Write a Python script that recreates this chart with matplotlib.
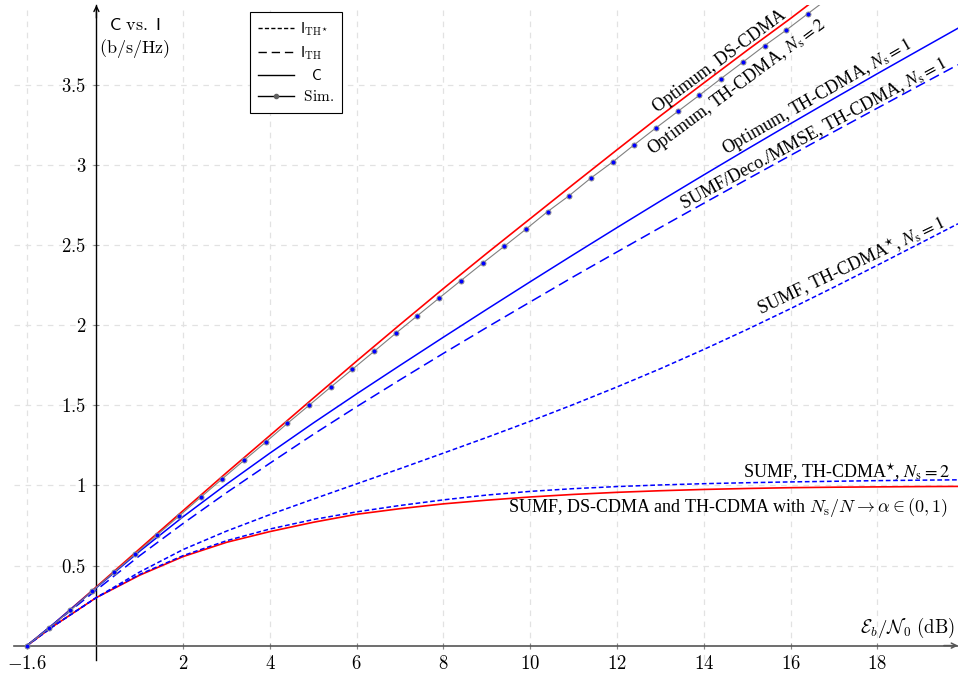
import numpy as np
import matplotlib
matplotlib.use('Agg')
import matplotlib.pyplot as plt
from matplotlib.lines import Line2D

plt.rcParams['font.family'] = ['Liberation Serif', 'DejaVu Serif']
plt.rcParams['mathtext.fontset'] = 'stix'
plt.rcParams['lines.scale_dashes'] = False

# ---------------- data ----------------
x_opt_ds = [-1.6, -1, 0, 1, 2, 3, 4, 5, 6, 7, 8, 9, 10, 11, 12, 13, 14, 15, 16, 16.6]
y_opt_ds = [0, 0.131, 0.367, 0.605, 0.843, 1.08, 1.312, 1.545, 1.777, 2.005, 2.23,
            2.45, 2.666, 2.882, 3.096, 3.308, 3.513, 3.717, 3.916, 4.04]

x_sim = [-1.6, -1.1, -0.6, -0.1, 0.4, 0.9, 1.4, 1.9, 2.4, 2.9, 3.4, 3.9, 4.4, 4.9,
         5.4, 5.9, 6.4, 6.9, 7.4, 7.9, 8.4, 8.9, 9.4, 9.9, 10.4, 10.9, 11.4, 11.9,
         12.4, 12.9, 13.4, 13.9, 14.4, 14.9, 15.4, 15.9, 16.4, 16.9]
y_sim = [0, 0.108, 0.22, 0.34, 0.457, 0.573, 0.691, 0.808, 0.925, 1.041, 1.156, 1.27,
         1.387, 1.50, 1.614, 1.725, 1.837, 1.95, 2.06, 2.17, 2.279, 2.387, 2.493, 2.60,
         2.71, 2.81, 2.92, 3.02, 3.128, 3.233, 3.335, 3.437, 3.541, 3.643, 3.746, 3.843,
         3.946, 4.048]

x_th1 = [-1.6, -1, 0, 1, 2, 3, 4, 5, 6, 7, 8, 9, 10, 11, 12, 13, 14, 15, 16, 17, 18, 19, 19.86]
y_opt_th1 = [0, 0.133, 0.362, 0.59, 0.805, 1.008, 1.202, 1.39, 1.572, 1.75, 1.926, 2.10,
             2.272, 2.442, 2.61, 2.776, 2.939, 3.10, 3.259, 3.416, 3.571, 3.724, 3.855]
y_sumf_th1 = [0, 0.131, 0.347, 0.562, 0.763, 0.955, 1.139, 1.319, 1.492, 1.66, 1.825, 1.987,
              2.146, 2.304, 2.458, 2.611, 2.762, 2.912, 3.061, 3.209, 3.356, 3.502, 3.627]
y_sumf_star1 = [0, 0.12, 0.30, 0.46, 0.60, 0.715, 0.818, 0.915, 1.01, 1.105, 1.202, 1.30,
                1.401, 1.506, 1.615, 1.729, 1.849, 1.974, 2.104, 2.238, 2.375, 2.514, 2.634]
y_sumf_alpha = [0, 0.12, 0.30, 0.44, 0.556, 0.645, 0.712, 0.77, 0.82, 0.855, 0.885, 0.908,
                0.928, 0.944, 0.957, 0.967, 0.975, 0.981, 0.986, 0.989, 0.991, 0.993, 0.994]
y_sumf_star2 = [0, 0.12, 0.30, 0.445, 0.562, 0.655, 0.728, 0.787, 0.835, 0.875, 0.91, 0.94,
                0.963, 0.98, 0.993, 1.003, 1.011, 1.017, 1.022, 1.026, 1.03, 1.033, 1.035]

xticks = [-1.6, 2, 4, 6, 8, 10, 12, 14, 16, 18]
xtick_labels = ['$-1.6$', '$2$', '$4$', '$6$', '$8$', '$10$', '$12$', '$14$', '$16$', '$18$']
yticks = [0.5, 1, 1.5, 2, 2.5, 3, 3.5]
ytick_labels = ['$0.5$', '$1$', '$1.5$', '$2$', '$2.5$', '$3$', '$3.5$']

# ---------------- figure ----------------
W, H = 958, 679
fig = plt.figure(figsize=(W / 100, H / 100), dpi=100)
ax = fig.add_axes([14 / W, 19 / H, (W - 14) / W, (660 - 5) / H])
ax.set_xlim(-1.9, 19.86)
ax.set_ylim(-0.09, 4.0)

RED = '#ff0000'
BLUE = '#0000ff'
long_d = (0, (7.5, 3.8))
short_d = (0, (3.4, 1.9))

ax.plot(x_opt_ds, y_opt_ds, color=RED, lw=1.2, zorder=3)
ax.plot(x_th1, y_sumf_alpha, color=RED, lw=1.2, zorder=3)
ax.plot(x_th1, y_opt_th1, color=BLUE, lw=1.1, zorder=4)
ax.plot(x_th1, y_sumf_th1, color=BLUE, lw=1.1, ls=long_d, zorder=4)
ax.plot(x_th1, y_sumf_star1, color=BLUE, lw=1.1, ls=short_d, zorder=4)
ax.plot(x_th1, y_sumf_star2, color=BLUE, lw=1.1, ls=short_d, zorder=4)
ax.plot(x_sim, y_sim, color='#808080', lw=0.8, marker='o', ms=3.6,
        mfc=BLUE, mec='#909090', mew=0.7, zorder=5)

# axes in the middle style
for s in ['top', 'right']:
    ax.spines[s].set_visible(False)
ax.spines['left'].set_position(('data', 0))
ax.spines['bottom'].set_position(('data', 0))
ax.spines['left'].set_color('black')
ax.spines['left'].set_linewidth(1.0)
ax.spines['bottom'].set_color('#555555')
ax.spines['bottom'].set_linewidth(1.2)
ax.annotate('', xy=(1.0, 0), xytext=(0.985, 0), xycoords=ax.get_yaxis_transform(),
            textcoords=ax.get_yaxis_transform(), annotation_clip=False,
            arrowprops=dict(arrowstyle='->', color='#555555', lw=1.1,
                            mutation_scale=9, shrinkA=0, shrinkB=0))
ax.annotate('', xy=(0, 1.0), xytext=(0, 0.98), xycoords=ax.get_xaxis_transform(),
            textcoords=ax.get_xaxis_transform(), annotation_clip=False,
            arrowprops=dict(arrowstyle='->', color='black', lw=1.0,
                            mutation_scale=9, shrinkA=0, shrinkB=0))

ax.set_xticks(xticks)
ax.set_xticklabels(xtick_labels, math_fontfamily='cm', fontsize=13.5)
ax.set_yticks(yticks)
ax.set_yticklabels(ytick_labels, math_fontfamily='cm', fontsize=13.5)
ax.tick_params(direction='inout', length=5, width=0.8, color='#888888')
ax.tick_params(axis='x', pad=4)
ax.tick_params(axis='y', pad=5)
ax.grid(True, ls=(0, (4, 4)), color='#e2e2e2', lw=0.9, zorder=0)
ax.set_axisbelow(True)

# axis labels
ax.text(19.78, 0.11, r'$\mathcal{E}_b/\mathcal{N}_0\ \mathrm{(dB)}$', ha='right',
        va='center', fontsize=13.5, math_fontfamily='cm')
fig.text(135 / W, 1 - 25 / H, r'$\mathsf{C}\ \mathrm{vs.}\ \mathsf{I}$', ha='center',
         va='center', fontsize=13, math_fontfamily='cm')
fig.text(135 / W, 1 - 48 / H, r'$\mathrm{(b/s/Hz)}$', ha='center', va='center',
         fontsize=13, math_fontfamily='cm')

# curve labels
FS = 13
lab = dict(fontsize=FS, rotation_mode='anchor', ha='center', va='center', zorder=6)
ax.text(14.37, 3.647, 'Optimum, DS-CDMA', rotation=36.5, **lab)
ax.text(14.77, 3.488, r'Optimum, TH-CDMA, $N_\mathrm{s}=2$', rotation=36.5, **lab)
ax.text(16.61, 3.427, r'Optimum, TH-CDMA, $N_\mathrm{s}=1$', rotation=30, **lab)
ax.text(16.52, 3.195, r'SUMF/Deco./MMSE, TH-CDMA, $N_\mathrm{s}=1$', rotation=28.5, **lab)
ax.text(17.40, 2.37, r'SUMF, TH-CDMA$^{\star}$, $N_\mathrm{s}=1$', rotation=25.5, **lab)
ax.text(19.68, 1.078, r'SUMF, TH-CDMA$^{\star}$, $N_\mathrm{s}=2$', ha='right',
        va='center', fontsize=FS)
ax.text(19.63, 0.86, r'SUMF, DS-CDMA and TH-CDMA with $N_\mathrm{s}/N\rightarrow\alpha\in(0,1)$',
        ha='right', va='center', fontsize=FS, math_fontfamily='cm')

# legend
handles = [Line2D([], [], color='black', lw=1.0, ls=(0, (3, 1.6))),
           Line2D([], [], color='black', lw=1.0, ls=(0, (6, 3.5))),
           Line2D([], [], color='black', lw=1.0),
           Line2D([], [], color='black', lw=1.0, marker='o', ms=3, mfc='#606060', mec='#606060')]
labels = [r'$\mathsf{I}_{\mathrm{TH}^{\star}}$', r'$\mathsf{I}_{\mathrm{TH}}$',
          r'$\;\;\;\mathsf{C}$', r'$\;\mathrm{Sim.}$']
leg = ax.legend(handles, labels, loc='upper left', bbox_to_anchor=(0.25, 0.989),
                borderaxespad=0, fancybox=False, framealpha=1, edgecolor='black',
                prop={'size': 11, 'math_fontfamily': 'cm'}, handlelength=2.3,
                handletextpad=0.4, labelspacing=0.4, borderpad=0.55)
leg.get_frame().set_linewidth(0.8)
leg.set_zorder(10)

fig.savefig('out.png', dpi=100)
